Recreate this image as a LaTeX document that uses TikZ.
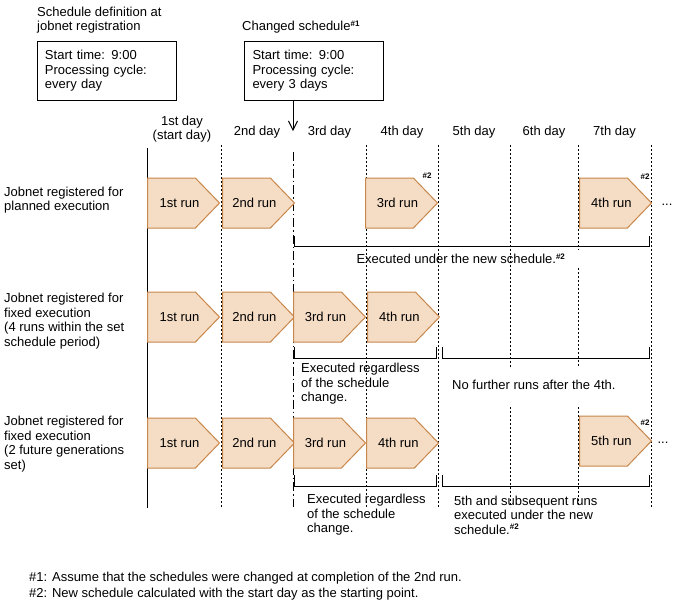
\documentclass[tikz,border=0pt]{standalone}
\usepackage{fontspec}
\setmainfont{Liberation Sans}
\usetikzlibrary{arrows.meta,positioning,shapes.symbols}
\definecolor{runfill}{HTML}{F5DCC5}
\definecolor{runedge}{HTML}{C8874B}
\newcommand{\notemark}[1]{\textsuperscript{\fontsize{8}{8}\selectfont\bfseries\##1}}

\begin{document}
\begin{tikzpicture}[
  x=1pt,y=-1pt,
  every node/.style={font=\fontsize{13}{14.5}\selectfont,align=left,inner sep=0pt},
  schedbox/.style={draw,line width=1pt,anchor=north west,minimum height=59pt,text width=124pt,inner xsep=7.5pt},
  run/.style={signal,signal to=east,signal pointer angle=92,draw=runedge,fill=runfill,line width=1pt,minimum width=72pt,minimum height=50pt,anchor=west,label={[xshift=8pt]center:#1}},
  tag/.style={font=\fontsize{8}{8}\selectfont\bfseries},
  daysep/.style={line width=1pt,dash pattern=on 2pt off 2pt},
  changeline/.style={line width=1pt,dash pattern=on 9pt off 3pt on 1.5pt off 3pt},
  span/.style={line width=1pt}
]
  \useasboundingbox (0,0) rectangle (678,614);

  % Schedule definitions above the time axis.
  \node[anchor=west] (regtitle) at (37,20) {Schedule definition at\\jobnet registration};
  \node[schedbox] (regbox) at (37,41) {Start time: 9:00\\Processing cycle:\\every day};
  \node[anchor=west] (chgtitle) at (242,27) {Changed schedule\notemark{1}};
  \node[schedbox,inner xsep=8pt,text width=123pt] (chgbox) at (244,41) {Start time: 9:00\\Processing cycle:\\every 3 days};
  \coordinate (chgpoint) at (293,131);
  \draw[line width=1pt,-{Straight Barb[length=9pt,width=9pt]}] (chgbox.south -| chgpoint) -- (chgpoint);

  % Day headings between the day boundaries.
  \node[align=center] (day1) at (182,129) {1st day\\(start day)};
  \foreach \xa/\xb/\lbl [count=\i from 2] in {221/293/2nd day,293/366/3rd day,366/438/4th day,438/510/5th day,510/578/6th day,578/651/7th day}
    \node (day\i) at ({(\xa+\xb)/2},132) {\lbl};

  % Day boundaries; the dash-dot line marks the schedule change.
  \draw[line width=1pt] (147,148) -- (147,508);
  \foreach \x in {221,366,438,651}
    \draw[daysep] (\x,145) -- (\x,507);
  \draw[daysep] (510,145) -- (510,367) (510,407) -- (510,507);
  \draw[daysep] (578,145) -- (578,250) (578,268) -- (578,367) (578,407) -- (578,507);
  \draw[changeline] (293,152) -- (293,507);

  % Row 1: planned execution.
  \node[anchor=west] (plan) at (4,200) {Jobnet registered for\\planned execution};
  \node[run=1st run] (plan1) at (147,203) {};
  \node[run=2nd run] (plan2) at (222,203) {};
  \node[run=3rd run] (plan3) at (365,203) {};
  \node[run=4th run] (plan4) at (579,203) {};
  \node[tag] at (427,176) {\#2};
  \node[tag] at (645,177) {\#2};
  \node (planmore) at (667,205) {...};
  \draw[span] (294,236) |- (649,246) -- (649,236);
  \node (plannote) at (461,259) {Executed under the new schedule.\notemark{2}};

  % Row 2: fixed execution, four runs in the period.
  \node[anchor=west] (fixa) at (4,321) {Jobnet registered for\\fixed execution\\(4 runs within the set\\schedule period)};
  \node[run=1st run] (fixa1) at (147,317) {};
  \node[run=2nd run] (fixa2) at (222,317) {};
  \node[run=3rd run] (fixa3) at (293,317) {};
  \node[run=4th run] (fixa4) at (367,317) {};
  \draw[span] (294,347) |- (436,358) -- (436,347);
  \draw[span] (442,347) |- (649,358) -- (649,347);
  \node[anchor=west] (fixanote) at (301,384) {Executed regardless\\of the schedule\\change.};
  \node[anchor=west] (fixaend) at (452,385) {No further runs after the 4th.};

  % Row 3: fixed execution, two future generations.
  \node[anchor=west] (fixb) at (4,444) {Jobnet registered for\\fixed execution\\(2 future generations\\set)};
  \node[run=1st run] (fixb1) at (147,443) {};
  \node[run=2nd run] (fixb2) at (222,443) {};
  \node[run=3rd run] (fixb3) at (293,443) {};
  \node[run=4th run] (fixb4) at (366,443) {};
  \node[run=5th run] (fixb5) at (579,441) {};
  \node[tag] at (645,423) {\#2};
  \node (fixbmore) at (663,443) {...};
  \draw[span] (294,475) |- (436,486) -- (436,475);
  \draw[span] (442,475) |- (649,486) -- (649,475);
  \node[anchor=west] (fixbnote) at (307,515) {Executed regardless\\of the schedule\\change.};
  \node[anchor=west] (fixbnew) at (454,515) {5th and subsequent runs\\executed under the new\\schedule.\notemark{2}};

  % Footnotes.
  \node[anchor=west] (foot1) at (29,578) {\#1: Assume that the schedules were changed at completion of the 2nd run.};
  \node[anchor=west] (foot2) at (29,594) {\#2: New schedule calculated with the start day as the starting point.};
\end{tikzpicture}
\end{document}
